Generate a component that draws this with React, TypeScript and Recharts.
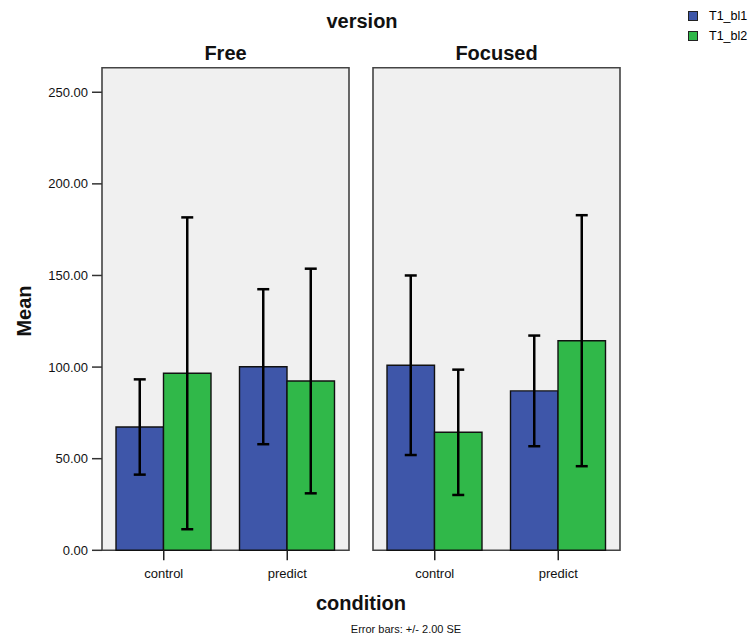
import { Bar, BarChart, CartesianGrid, ErrorBar, Legend, ReferenceArea, XAxis, YAxis } from "recharts";

const CONDITIONS = ["control", "predict"];
const FREE_BL1 = [67.3, 100.2];
const FREE_BL1_ERR = [26.0, 42.3];
const FREE_BL2 = [96.6, 92.4];
const FREE_BL2_ERR = [85.1, 61.3];
const FOCUSED_BL1 = [101.0, 87.0];
const FOCUSED_BL1_ERR = [49.0, 30.2];
const FOCUSED_BL2 = [64.4, 114.4];
const FOCUSED_BL2_ERR = [34.2, 68.5];
const Y_TICKS = [0, 50, 100, 150, 200, 250];
const Y_MAX = 263.4;

const BLUE = "#3e56a9";
const GREEN = "#30b849";
const FONT = "'Liberation Sans', Arial, sans-serif";

const build = (a: number[], ae: number[], b: number[], be: number[]) =>
  CONDITIONS.map((c, i) => ({ condition: c, T1_bl1: a[i], e1: ae[i], T1_bl2: b[i], e2: be[i] }));

const freeData = build(FREE_BL1, FREE_BL1_ERR, FREE_BL2, FREE_BL2_ERR);
const focusedData = build(FOCUSED_BL1, FOCUSED_BL1_ERR, FOCUSED_BL2, FOCUSED_BL2_ERR);

function LegendBox({ payload }: any) {
  return (
    <div style={{ fontFamily: FONT, fontSize: 12.5 }}>
      {(payload || []).map((p: any) => (
        <div key={p.value} style={{ display: "flex", alignItems: "center", height: 20 }}>
          <span
            style={{
              display: "inline-block",
              width: 8,
              height: 8,
              background: p.color,
              border: "1px solid #222",
              marginRight: 11,
            }}
          />
          <span>{p.value}</span>
        </div>
      ))}
    </div>
  );
}

function Panel({
  data,
  width,
  margin,
  showY,
  showLegend,
}: {
  data: any[];
  width: number;
  margin: { top: number; right: number; left: number; bottom: number };
  showY?: boolean;
  showLegend?: boolean;
}) {
  return (
    <BarChart width={width} height={642} data={data} margin={margin} barSize={47.5} barGap={0}>
      <CartesianGrid fill="#f0f0f0" horizontal={false} vertical={false} />
      <XAxis
        dataKey="condition"
        axisLine={false}
        tickLine={{ stroke: "#222", strokeWidth: 1.5 }}
        tickSize={10}
        tickMargin={8}
        height={30}
        tick={{ fill: "#111", fontSize: 13, fontFamily: FONT }}
      />
      <YAxis
        type="number"
        domain={[0, Y_MAX]}
        ticks={Y_TICKS}
        hide={!showY}
        width={102}
        axisLine={false}
        tickLine={{ stroke: "#333", strokeWidth: 1.5 }}
        tickSize={10}
        tickMargin={4}
        tickFormatter={(v) => Number(v).toFixed(2)}
        tick={{ fill: "#111", fontSize: 13, fontFamily: FONT }}
      />
      <Bar dataKey="T1_bl1" name="T1_bl1" fill={BLUE} stroke="#111" strokeWidth={1.4} isAnimationActive={false}>
        <ErrorBar dataKey="e1" width={6} stroke="#000" strokeWidth={2.5} />
      </Bar>
      <Bar dataKey="T1_bl2" name="T1_bl2" fill={GREEN} stroke="#111" strokeWidth={1.4} isAnimationActive={false}>
        <ErrorBar dataKey="e2" width={6} stroke="#000" strokeWidth={2.5} />
      </Bar>
      <ReferenceArea y1={0} y2={Y_MAX} fill="none" stroke="#444" strokeWidth={1.6} ifOverflow="visible" />
      {showLegend && (
        <Legend
          layout="vertical"
          align="center"
          verticalAlign="middle"
          wrapperStyle={{ top: 6, left: 328, width: 70 }}
          content={(props: any) => <LegendBox payload={props.payload} />}
        />
      )}
    </BarChart>
  );
}

export default function App() {
  return (
    <div style={{ position: "absolute", left: 0, top: 0, width: 755, height: 642, background: "#fff" }}>
      <div style={{ position: "absolute", left: 0, top: 0 }}>
        <Panel data={freeData} width={360} showY margin={{ top: 67.7, right: 11, left: 0, bottom: 61.7 }} />
      </div>
      <div style={{ position: "absolute", left: 360, top: 0 }}>
        <Panel data={focusedData} width={395} showLegend margin={{ top: 67.7, right: 135, left: 13, bottom: 61.7 }} />
      </div>
      <svg
        width={755}
        height={642}
        style={{ position: "absolute", left: 0, top: 0, pointerEvents: "none" }}
        fontFamily={FONT}
      >
        <text x={362} y={28} textAnchor="middle" fontSize={20} fontWeight="bold" fill="#111">
          version
        </text>
        <text x={225.5} y={60} textAnchor="middle" fontSize={20} fontWeight="bold" fill="#111">
          Free
        </text>
        <text x={496.5} y={60} textAnchor="middle" fontSize={20} fontWeight="bold" fill="#111">
          Focused
        </text>
        <text
          x={31}
          y={311}
          textAnchor="middle"
          fontSize={20}
          fontWeight="bold"
          fill="#111"
          transform="rotate(-90 31 311)"
        >
          Mean
        </text>
        <text x={361} y={610} textAnchor="middle" fontSize={20} fontWeight="bold" fill="#111">
          condition
        </text>
        <text x={406} y={633} textAnchor="middle" fontSize={11} fill="#111">
          Error bars: +/- 2.00 SE
        </text>
      </svg>
    </div>
  );
}
